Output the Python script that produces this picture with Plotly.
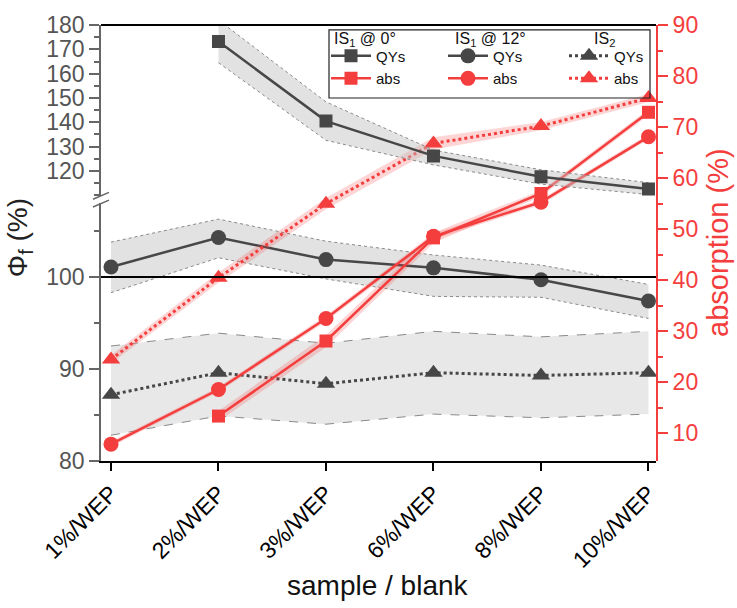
import plotly.graph_objects as go

# ---------------- data ----------------
categories = ["1%/WEP", "2%/WEP", "3%/WEP", "6%/WEP", "8%/WEP", "10%/WEP"]

# Photoluminescence quantum yields (left axis, %)
qy_is1_0 = [None, 173.2, 140.5, 126.2, 117.6, 112.6]
qy_is1_0_lo = [None, 164.5, 132.6, 122.5, 114.6, 110.3]
qy_is1_0_hi = [None, 182.0, 148.4, 128.6, 120.5, 115.2]

qy_is1_12 = [101.1, 104.3, 101.9, 101.0, 99.7, 97.4]
qy_is1_12_lo = [98.3, 102.1, 99.8, 97.9, 97.8, 95.5]
qy_is1_12_hi = [103.8, 106.3, 103.9, 102.4, 101.3, 99.2]

qy_is2 = [87.2, 89.6, 88.4, 89.6, 89.3, 89.6]
qy_is2_lo = [82.8, 84.9, 84.0, 85.1, 84.7, 85.1]
qy_is2_hi = [92.5, 93.9, 92.8, 94.1, 93.5, 94.1]

# Absorption (right axis, %)
abs_is1_0 = [None, 13.4, 28.1, 48.3, 57.0, 72.9]
abs_is1_0_err = [None, 1.0, 1.2, 1.0, 0.6, 0.6]
abs_is1_12 = [7.9, 18.6, 32.5, 48.6, 55.3, 68.1]
abs_is1_12_err = [0.5, 0.5, 0.6, 0.6, 0.5, 0.5]
abs_is2 = [24.5, 40.5, 55.0, 66.8, 70.2, 75.7]
abs_is2_err = [0.8, 1.0, 1.1, 1.2, 0.8, 0.8]

left_lower_ticks = [80, 90, 100]
left_upper_ticks = [120, 130, 140, 150, 160, 170, 180]
right_ticks = [10, 20, 30, 40, 50, 60, 70, 80, 90]

legend_headers = ["IS<sub>1</sub> @ 0°", "IS<sub>1</sub> @ 12°", "IS<sub>2</sub>"]

# ---------------- style ----------------
FONT = "Liberation Sans, Arial, sans-serif"
DARK = "#474747"
RED = "#F43E3E"
AXGRAY = "#666666"

fig = go.Figure()


def clean(xs, ys):
    px, py = [], []
    for a, b in zip(xs, ys):
        if b is not None:
            px.append(a)
            py.append(b)
    return px, py


def band(lo, hi, yaxis, fill, edge, dash="dash"):
    xl, yl = clean(categories, lo)
    xh, yh = clean(categories, hi)
    fig.add_trace(go.Scatter(x=xh + xl[::-1], y=yh + yl[::-1], fill="toself",
                             fillcolor=fill, line=dict(width=0), mode="lines",
                             yaxis=yaxis, showlegend=False, hoverinfo="skip"))
    for xx, yy in ((xl, yl), (xh, yh)):
        fig.add_trace(go.Scatter(x=xx, y=yy, mode="lines",
                                 line=dict(color=edge, width=1, dash=dash),
                                 yaxis=yaxis, showlegend=False, hoverinfo="skip"))


def err_band(vals, err, yaxis, fill):
    lo = [None if v is None else v - e for v, e in zip(vals, err)]
    hi = [None if v is None else v + e for v, e in zip(vals, err)]
    xl, yl = clean(categories, lo)
    xh, yh = clean(categories, hi)
    fig.add_trace(go.Scatter(x=xh + xl[::-1], y=yh + yl[::-1], fill="toself",
                             fillcolor=fill, line=dict(width=0), mode="lines",
                             yaxis=yaxis, showlegend=False, hoverinfo="skip"))


# ---- bands (left axis) ----
band(qy_is2_lo, qy_is2_hi, "y", "rgba(205,205,205,0.45)", "#8a8a8a")
band(qy_is1_12_lo, qy_is1_12_hi, "y", "rgba(190,190,190,0.45)", "#8a8a8a", "dot")
band(qy_is1_0_lo, qy_is1_0_hi, "y3", "rgba(190,190,190,0.45)", "#8a8a8a", "dot")

# ---- QY lines ----
x, y = clean(categories, qy_is1_0)
fig.add_trace(go.Scatter(x=x, y=y, yaxis="y3", mode="lines+markers", name="QYs",
                         line=dict(color=DARK, width=2.5),
                         marker=dict(symbol="square", size=13, color=DARK),
                         legend="legend"))
fig.add_trace(go.Scatter(x=categories, y=qy_is1_12, yaxis="y", mode="lines+markers", name="QYs",
                         line=dict(color=DARK, width=2.5),
                         marker=dict(symbol="circle", size=15, color=DARK),
                         legend="legend2"))
fig.add_trace(go.Scatter(x=categories, y=qy_is2, yaxis="y", mode="lines+markers", name="QYs",
                         line=dict(color=DARK, width=3, dash="dot"),
                         marker=dict(symbol="triangle-up", size=16, color=DARK),
                         legend="legend3"))

# ---- absorption bands + lines (right axis) ----
err_band(abs_is2, abs_is2_err, "y2", "rgba(244,62,62,0.22)")
err_band(abs_is1_0, abs_is1_0_err, "y2", "rgba(244,62,62,0.22)")
err_band(abs_is1_12, abs_is1_12_err, "y2", "rgba(244,62,62,0.22)")

x, y = clean(categories, abs_is1_0)
fig.add_trace(go.Scatter(x=x, y=y, yaxis="y2", mode="lines+markers", name="abs",
                         line=dict(color=RED, width=2.5),
                         marker=dict(symbol="square", size=13, color=RED),
                         legend="legend"))
fig.add_trace(go.Scatter(x=categories, y=abs_is1_12, yaxis="y2", mode="lines+markers", name="abs",
                         line=dict(color=RED, width=2.5),
                         marker=dict(symbol="circle", size=15, color=RED),
                         legend="legend2"))
fig.add_trace(go.Scatter(x=categories, y=abs_is2, yaxis="y2", mode="lines+markers", name="abs",
                         line=dict(color=RED, width=3, dash="dot"),
                         marker=dict(symbol="triangle-up", size=16, color=RED),
                         legend="legend3"))

# ---------------- layout ----------------
W, H = 737, 608
L, R, T, B = 101, 81, 13, 147
PW, PH = W - L - R, H - T - B


def px_x(p):
    return (p - L) / PW


def px_y(p):
    return (H - B - p) / PH


lower_dom = [0, px_y(196)]
upper_dom = [px_y(189), 1]

tickfont = dict(family=FONT, size=23, color="#555555")

LEGFONT = dict(family=FONT, size=15, color="#111")
leg_common = dict(bgcolor="rgba(0,0,0,0)", borderwidth=0, font=LEGFONT,
                  itemwidth=40, tracegroupgap=0, xanchor="left", yanchor="top",
                  itemclick=False, itemdoubleclick=False)
LEG_TOP = px_y(28)

fig.update_layout(
    width=W, height=H,
    margin=dict(l=L, r=R, t=T, b=B, pad=0),
    paper_bgcolor="white", plot_bgcolor="rgba(0,0,0,0)",
    font=dict(family=FONT),
    xaxis=dict(type="category", categoryorder="array", categoryarray=categories,
               range=[-0.093, 5.07], showgrid=False, zeroline=False,
               showline=True, linecolor="black", linewidth=2,
               ticks="outside", ticklen=8, tickwidth=1.5, tickcolor="black",
               tickangle=-45, tickfont=dict(family=FONT, size=23, color="black"),
               anchor="y"),
    yaxis=dict(domain=lower_dom, range=[80, 80 + (461 - 196) / 9.45],
               tickmode="array", tickvals=left_lower_ticks,
               showgrid=False, zeroline=False, showline=True, linecolor=AXGRAY, linewidth=1.5,
               ticks="outside", ticklen=10, tickwidth=1.5, tickcolor=AXGRAY, tickfont=tickfont,
               minor=dict(tickmode="array", tickvals=[85, 95, 105], ticks="outside",
                          ticklen=5, tickcolor=AXGRAY, tickwidth=1.5),
               anchor="x"),
    yaxis3=dict(domain=upper_dom, range=[180 - (189 - 13) / 2.5, 180],
                tickmode="array", tickvals=left_upper_ticks,
                showgrid=False, zeroline=False, showline=True, linecolor=AXGRAY, linewidth=1.5,
                ticks="outside", ticklen=10, tickwidth=1.5, tickcolor=AXGRAY, tickfont=tickfont,
                minor=dict(tickmode="array", tickvals=[110, 115, 125, 135, 145, 155, 165, 175],
                           ticks="outside", ticklen=5, tickcolor=AXGRAY, tickwidth=1.5),
                anchor="x"),
    yaxis2=dict(domain=[0, 1], range=[4.6, 90], side="right", anchor="x",
                tickmode="array", tickvals=right_ticks,
                showgrid=False, zeroline=False, showline=True, linecolor=RED, linewidth=2,
                ticks="outside", ticklen=10, tickwidth=1.5, tickcolor=RED,
                tickfont=dict(family=FONT, size=23, color=RED),
                minor=dict(tickmode="array", tickvals=[15, 25, 35, 45, 55, 65, 75, 85],
                           ticks="outside", ticklen=5, tickcolor=RED, tickwidth=1.5)),
    legend=dict(x=px_x(326), y=LEG_TOP, **leg_common),
    legend2=dict(x=px_x(443), y=LEG_TOP, **leg_common),
    legend3=dict(x=px_x(564), y=LEG_TOP, **leg_common),
    showlegend=True,
)

shapes = [
    # reference line at 100 %
    dict(type="line", xref="paper", yref="y", x0=0, x1=1, y0=100, y1=100,
         line=dict(color="black", width=2)),
    # top frame line
    dict(type="line", xref="paper", yref="paper", x0=0, x1=1, y0=1, y1=1,
         line=dict(color="black", width=2)),
    # legend box
    dict(type="rect", xref="paper", yref="paper", x0=px_x(329), x1=px_x(650),
         y0=px_y(88), y1=px_y(18), line=dict(color="#222", width=1.2)),
    # axis break marks
    dict(type="line", xref="paper", yref="paper", x0=px_x(93), x1=px_x(109),
         y0=px_y(192), y1=px_y(185), line=dict(color=AXGRAY, width=1.5)),
    dict(type="line", xref="paper", yref="paper", x0=px_x(93), x1=px_x(109),
         y0=px_y(200), y1=px_y(193), line=dict(color=AXGRAY, width=1.5)),
]
fig.update_layout(shapes=shapes)

# legend column headers
for txt, xp, anchor in zip(legend_headers, [332, 453, 604], ["left", "left", "center"]):
    fig.add_annotation(text=txt, xref="paper", yref="paper", x=px_x(xp), y=px_y(28),
                       showarrow=False, xanchor=anchor, yanchor="middle",
                       font=dict(family=FONT, size=16, color="#111"))

fig.add_annotation(text="sample / blank", xref="paper", yref="paper",
                   x=px_x(378), y=px_y(589), showarrow=False,
                   xanchor="center", yanchor="middle",
                   font=dict(family=FONT, size=28, color="#111"))
fig.add_annotation(text="absorption (%)", xref="paper", yref="paper",
                   x=px_x(718), y=px_y(237), showarrow=False, textangle=-90,
                   xanchor="center", yanchor="middle",
                   font=dict(family=FONT, size=29, color=RED))
fig.add_annotation(text="Φ<sub>f</sub> (%)", xref="paper", yref="paper",
                   x=px_x(19), y=px_y(232), showarrow=False, textangle=-90,
                   xanchor="center", yanchor="middle",
                   font=dict(family=FONT, size=28, color="#222"))

fig.write_html("out.html")
